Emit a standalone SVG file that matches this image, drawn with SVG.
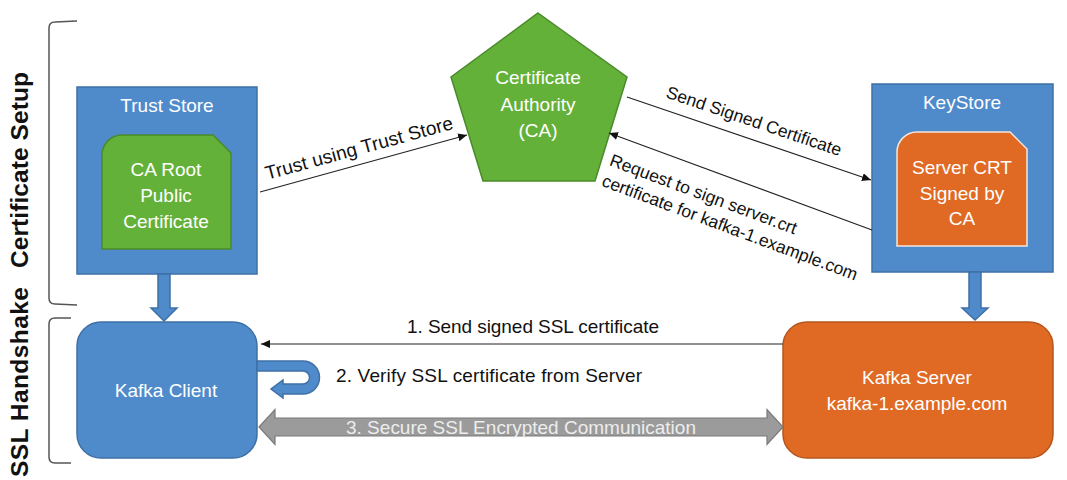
<svg xmlns="http://www.w3.org/2000/svg" width="1067" height="480" viewBox="0 0 1067 480">
<style>
.t{font-family:"Liberation Sans",Arial,sans-serif;}
.w{fill:#ffffff;font-size:19px;text-anchor:middle;dominant-baseline:central;}
.lbl{fill:#111111;font-size:19px;}
.side{fill:#111111;font-size:24.5px;font-weight:bold;text-anchor:middle;}
.blue{fill:#4F8BCB;stroke:#3E70A6;stroke-width:1.5;}
.green{fill:#64B13A;stroke:#4A8A2A;stroke-width:1.5;}
.orange{fill:#E06A24;stroke:#B5561D;stroke-width:1.5;}
.conn{stroke:#222222;stroke-width:1.1;fill:none;}
.br{stroke:#555555;stroke-width:1.5;fill:none;}
</style>
<defs>
<marker id="ah" markerUnits="userSpaceOnUse" markerWidth="9" markerHeight="8" refX="9" refY="4" orient="auto">
<path d="M0,0 L9,4 L0,8 Z" fill="#111111"/>
</marker>
</defs>
<rect width="1067" height="480" fill="#ffffff"/>

<g id="brackets">
<path class="br" d="M77,21 L55,22 Q49,22 49,28 L49,298 Q49,304 55,304 L77,305"/>
<path class="br" d="M71,318 L55,318 Q49,318 49,324 L49,457 Q49,463 55,463 L71,463"/>
<text class="t side" transform="translate(27.5,170) rotate(-90)" textLength="196" lengthAdjust="spacing">Certificate Setup</text>
<text class="t side" transform="translate(27.5,382) rotate(-90)" textLength="190" lengthAdjust="spacing">SSL Handshake</text>
</g>

<g id="trust-store">
<rect class="blue" x="77" y="87" width="180" height="187"/>
<text class="t w" x="167" y="105">Trust Store</text>
<path class="green" d="M102,249 L102,155 A20,20 0 0 1 122,135 L213,135 L231,153 L231,249 Z"/>
<text class="t w" x="166" y="169">CA Root</text>
<text class="t w" x="166" y="195">Public</text>
<text class="t w" x="166" y="221">Certificate</text>
</g>

<g id="ca">
<polygon class="green" points="538,13 627,77 595,181 483,181 451,77"/>
<text class="t w" x="538" y="77">Certificate</text>
<text class="t w" x="538" y="104">Authority</text>
<text class="t w" x="538" y="130">(CA)</text>
</g>

<g id="keystore">
<rect class="blue" x="872" y="84" width="181" height="188"/>
<text class="t w" x="962" y="102">KeyStore</text>
<path class="orange" style="stroke:#F3E6DC" d="M897,246 L897,152 A20,20 0 0 1 917,132 L1010,132 L1027,149 L1027,246 Z"/>
<text class="t w" x="962" y="167">Server CRT</text>
<text class="t w" x="962" y="193">Signed by</text>
<text class="t w" x="962" y="218">CA</text>
</g>

<g id="kafka-client">
<rect class="blue" x="77" y="322" width="180" height="136" rx="24"/>
<text class="t w" x="166" y="390">Kafka Client</text>
</g>

<g id="kafka-server">
<rect class="orange" x="783" y="322" width="270" height="136" rx="24"/>
<text class="t w" x="917" y="377">Kafka Server</text>
<text class="t w" x="917" y="403">kafka-1.example.com</text>
</g>

<g id="connectors">
<path class="blue" d="M158,274 L170,274 L170,308 L177,308 L164,321 L151,308 L158,308 Z"/>
<path class="blue" d="M969,272 L981,272 L981,308 L988,308 L975,320 L962,308 L969,308 Z"/>
<line class="conn" x1="260" y1="192" x2="467" y2="135" marker-end="url(#ah)"/>
<text class="t lbl" x="359" y="148" text-anchor="middle" dominant-baseline="central" transform="rotate(-15.3 359 148)" textLength="194" lengthAdjust="spacing">Trust using Trust Store</text>
<line class="conn" x1="627" y1="97" x2="871" y2="180" marker-end="url(#ah)"/>
<text class="t lbl" x="754" y="121" text-anchor="middle" dominant-baseline="central" transform="rotate(18.7 754 121)" style="font-size:17.5px">Send Signed Certificate</text>
<line class="conn" x1="872" y1="230" x2="609" y2="133" marker-end="url(#ah)"/>
<g transform="translate(608.5,165) rotate(20.5)">
<text class="t lbl" x="0" y="0" style="font-size:17.5px">Request to sign server.crt</text>
<text class="t lbl" x="0" y="22" style="font-size:17.5px">certificate for kafka-1.example.com</text>
</g>
<line class="conn" x1="783" y1="344" x2="261" y2="344" marker-end="url(#ah)"/>
<text class="t lbl" x="533" y="333" text-anchor="middle" textLength="252" lengthAdjust="spacing">1. Send signed SSL certificate</text>
<path class="blue" d="M257,361 L303,361 A16.5,16.5 0 0 1 303,394 L283,394 L283,398 L271,389 L283,380 L283,384 L303,384 A6.5,6.5 0 0 0 303,371 L257,371 Z"/>
<text class="t lbl" x="336" y="382" textLength="306" lengthAdjust="spacing">2. Verify SSL certificate from Server</text>
<path d="M259,427 L275,409.5 L275,418 L767,418 L767,409.5 L783,427 L767,444.5 L767,436 L275,436 L275,444.5 Z" fill="#9B9B9B" stroke="#7A7A7A" stroke-width="1.2"/>
<text class="t" x="346" y="434" style="font-size:19px;fill:#EDEDED" textLength="350" lengthAdjust="spacing">3. Secure SSL Encrypted Communication</text>
</g>
</svg>
